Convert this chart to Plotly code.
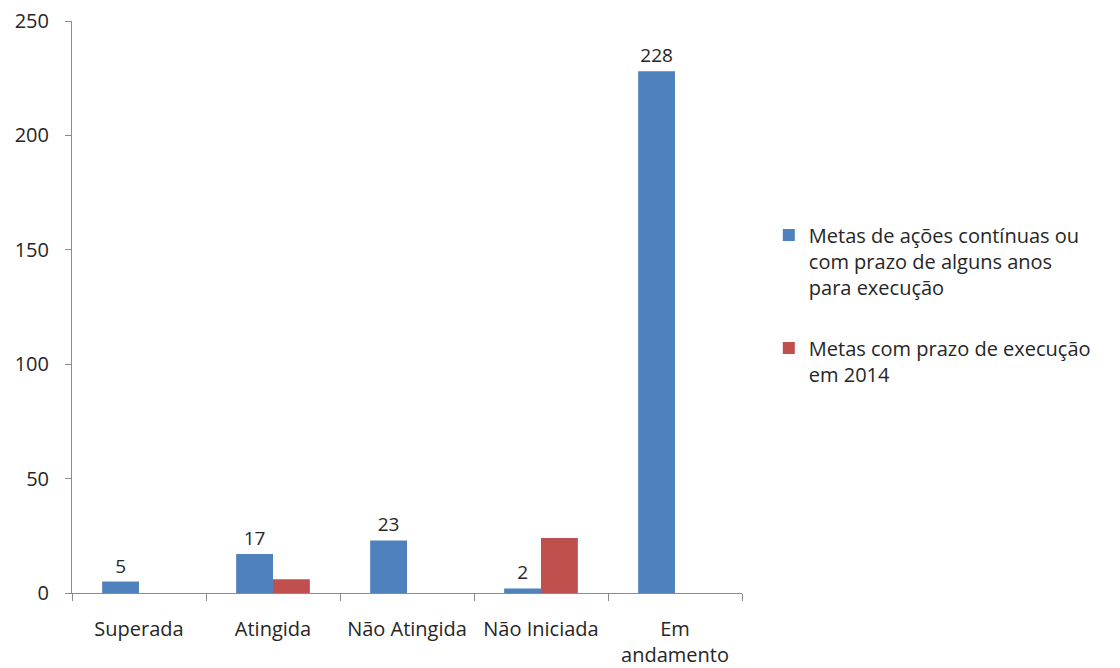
import plotly.graph_objects as go

categories = ["Superada", "Atingida", "Não Atingida", "Não Iniciada", "Em<br>andamento"]
series_blue_name = "Metas de ações contínuas ou<br>com prazo de alguns anos<br>para execução"
series_red_name = "Metas com prazo de execução<br>em 2014"
blue_values = [5, 17, 23, 2, 228]
red_values = [0, 6, 0, 24, 0]
y_ticks = [0, 50, 100, 150, 200, 250]

FONT = "Open Sans, Liberation Sans, sans-serif"
TXT = "#262626"

fig = go.Figure()
fig.add_trace(go.Bar(
    x=categories, y=blue_values, name=series_blue_name,
    marker=dict(color="#4F81BD", line=dict(width=0)),
    text=[str(v) for v in blue_values], textposition="outside",
    textfont=dict(size=19, color=TXT, family=FONT), cliponaxis=False,
    legendgroup="a",
))
fig.add_trace(go.Bar(
    x=categories, y=red_values, name=series_red_name,
    marker=dict(color="#C0504D", line=dict(width=0)),
    legendgroup="b",
))

fig.update_layout(
    width=1112, height=660,
    paper_bgcolor="white", plot_bgcolor="white",
    margin=dict(l=64, r=378, t=13, b=75),
    barmode="group", bargap=0.45, bargroupgap=0,
    font=dict(family=FONT, size=19, color=TXT),
    showlegend=True,
    legend=dict(x=1.04, y=0.66, xanchor="left", yanchor="top",
                font=dict(size=20, color=TXT, family=FONT),
                valign="top", tracegroupgap=32, itemwidth=30),
)
fig.update_xaxes(
    showline=True, linecolor="#8c8c8c", linewidth=1, automargin=False,
    ticks="outside", tickson="boundaries", ticklen=7, tickcolor="#8c8c8c",
    ticklabelstandoff=18, ticklabeloverflow="allow",
    showgrid=False, tickfont=dict(size=20, color=TXT, family=FONT),
)
fig.update_yaxes(
    range=[0, 250], tickvals=y_ticks, showline=True, linecolor="#8c8c8c", linewidth=1,
    automargin=False, ticklabelstandoff=12, ticklabeloverflow="allow",
    ticks="outside", ticklen=6, tickcolor="#8c8c8c", showgrid=False, zeroline=False,
    tickfont=dict(size=20, color=TXT, family=FONT),
)

fig.write_html("out.html")
